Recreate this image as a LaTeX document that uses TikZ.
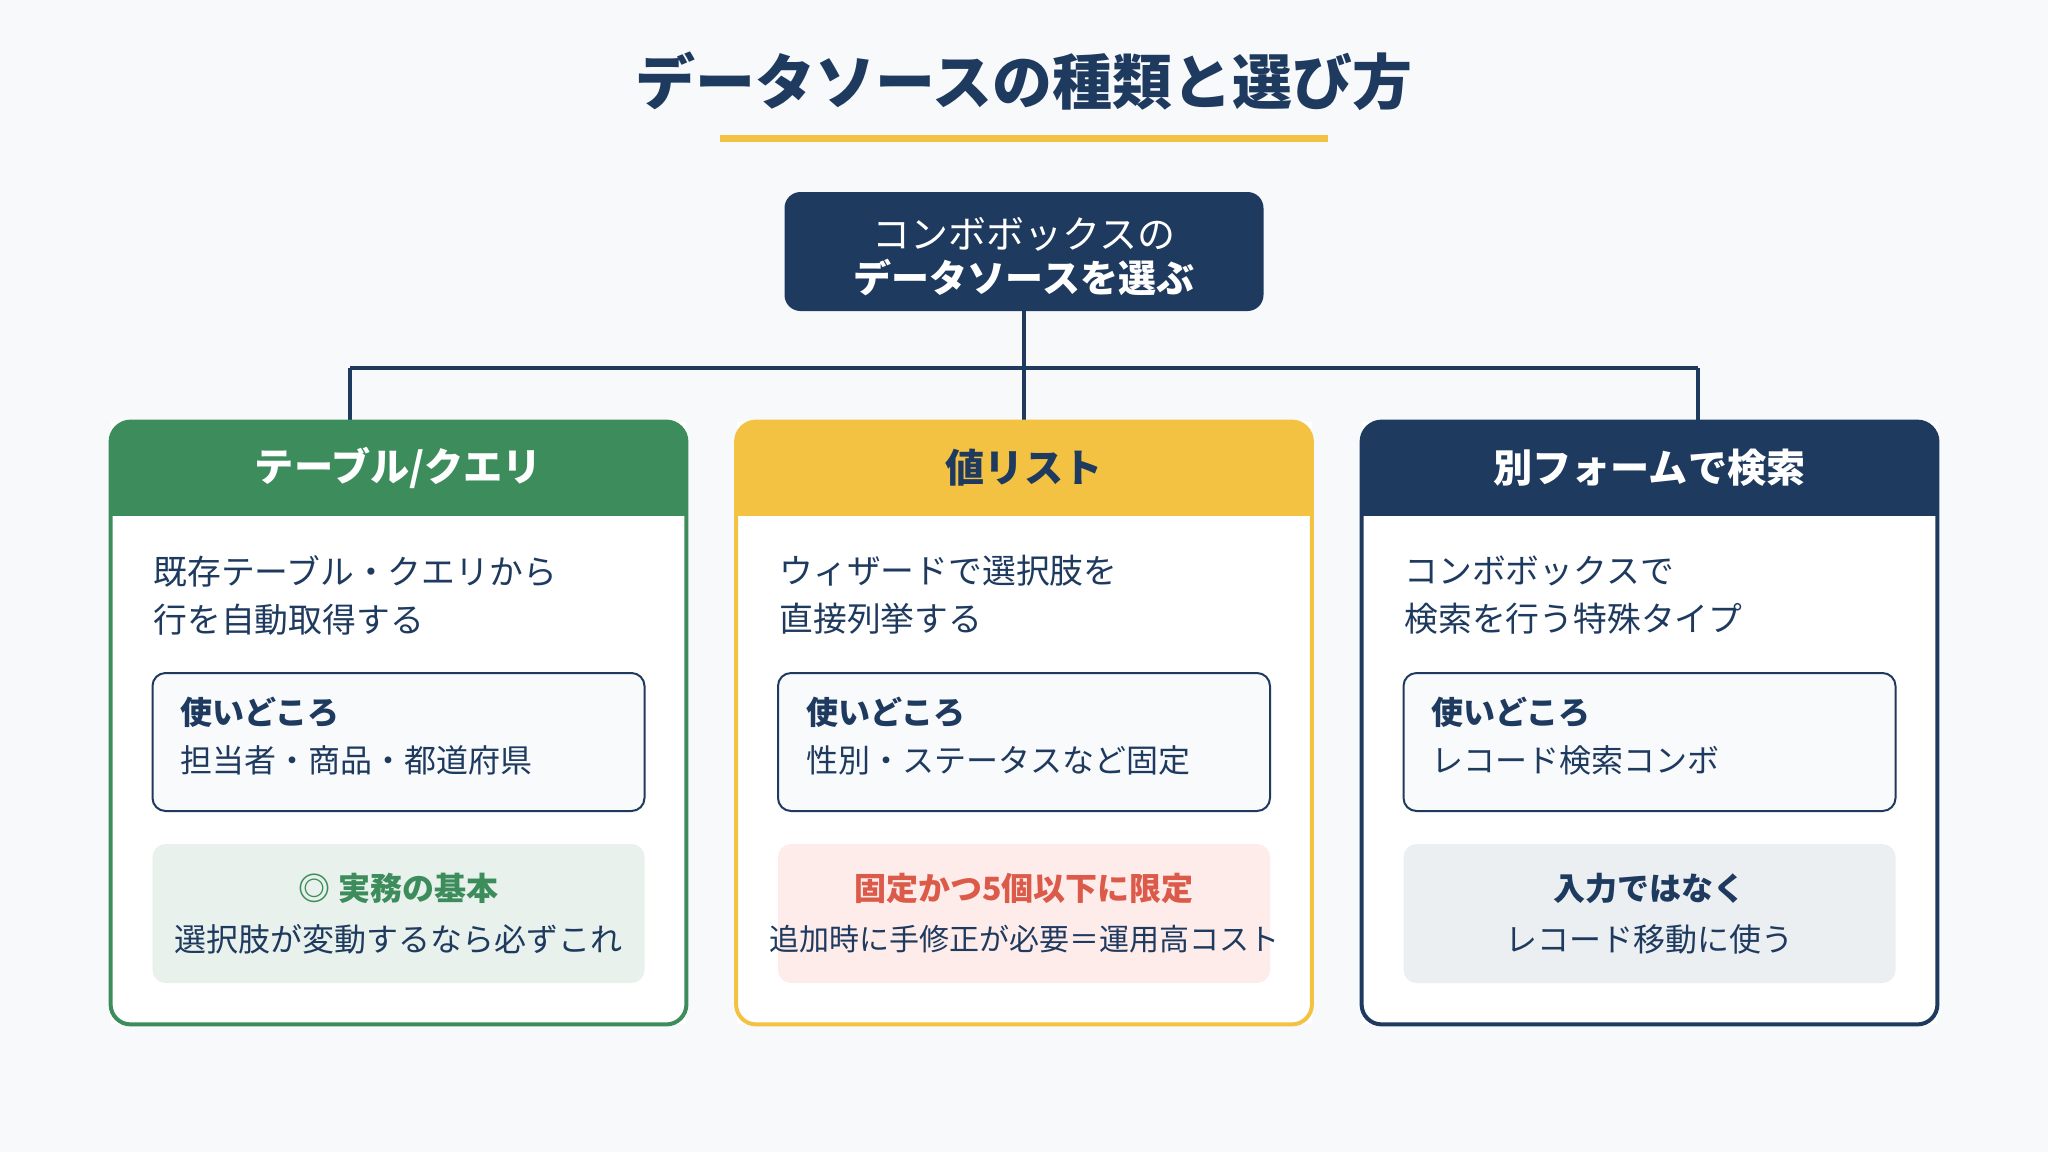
\documentclass[tikz,border=0pt]{standalone}
\usepackage{fontspec}
\setmainfont{Noto Sans CJK JP}
\definecolor{bgc}{HTML}{F7F9FB}
\definecolor{navy}{HTML}{1F3A5F}
\definecolor{grn}{HTML}{3D8C5C}
\definecolor{ylw}{HTML}{F4C242}
\definecolor{redt}{HTML}{DC5A4A}
\definecolor{grntint}{HTML}{E8F1EB}
\definecolor{pinktint}{HTML}{FDECEA}
\definecolor{graytint}{HTML}{ECEFF2}
\definecolor{boxfill}{HTML}{F8FAFC}
\begin{document}
\begin{tikzpicture}[x=0.5pt,y=-0.5pt,
  conn/.style={draw=navy,line width=1.6pt},
  cardbox/.style={fill=white,minimum width=287.5pt,minimum height=301pt,inner sep=0pt},
  hdtext/.style={font=\fontsize{19.6}{23}\selectfont\bfseries},
  desc/.style={anchor=west,align=left,text=navy,inner sep=0pt,font=\fontsize{16.9}{24}\selectfont},
  usebox/.style={draw=navy,line width=1pt,fill=boxfill,rounded corners=6.5pt,minimum width=246pt,minimum height=69pt,inner sep=0pt},
  usehead/.style={anchor=west,text=navy,inner sep=0pt,font=\fontsize{16}{20}\selectfont\bfseries},
  usetext/.style={anchor=west,text=navy,inner sep=0pt,font=\fontsize{16}{20}\selectfont},
  notebox/.style={rounded corners=6.5pt,minimum width=246pt,minimum height=69.5pt,inner sep=0pt},
  notehead/.style={inner sep=0pt,font=\fontsize{16}{20}\selectfont\bfseries},
  notetext/.style={inner sep=0pt,text=navy,font=\fontsize{16}{20}\selectfont}
]
\fill[bgc] (0,0) rectangle (2048,1152);
\useasboundingbox (0,0) rectangle (2048,1152);

% title
\node[text=navy,font=\fontsize{30}{36}\selectfont\bfseries] (title) at (1024,81) {データソースの種類と選び方};
\fill[ylw] (720,134.5) rectangle (1328,141.5);

% top box
\node[fill=navy,rounded corners=8pt,minimum width=239.5pt,minimum height=59.5pt,text=white,align=center,
  font=\fontsize{19}{22.5}\selectfont] (top) at (1024,251.5) {};
\node[text=white,inner sep=0pt,font=\fontsize{19}{22.5}\selectfont] (top1) at (1024,234) {コンボボックスの};
\node[text=white,inner sep=0pt,font=\fontsize{19}{22.5}\selectfont\bfseries] (top2) at (1024,278) {データソースを選ぶ};

% cards
\node[cardbox] (c1) at (398.5,723) {};
\node[cardbox] (c2) at (1024,723) {};
\node[cardbox] (c3) at (1649.5,723) {};

% connectors
\coordinate (jL) at (350,368);
\coordinate (jR) at (1698,368);
\draw[conn] (top.south) -- (top.south |- jL);
\draw[conn] (jL) -- (jR);
\draw[conn] (jL) -- (jL |- c1.north);
\draw[conn] (jR) -- (jR |- c3.north);
\draw[conn] (top.south |- jL) -- (c2.north);

% headers
\begin{scope}
\clip[rounded corners=10pt] (c1.north west) rectangle (c1.south east);
\fill[grn] (c1.north west) rectangle ([yshift=-47pt]c1.north east);
\end{scope}
\begin{scope}
\clip[rounded corners=10pt] (c2.north west) rectangle (c2.south east);
\fill[ylw] (c2.north west) rectangle ([yshift=-47pt]c2.north east);
\end{scope}
\begin{scope}
\clip[rounded corners=10pt] (c3.north west) rectangle (c3.south east);
\fill[navy] (c3.north west) rectangle ([yshift=-47pt]c3.north east);
\end{scope}
\draw[grn,line width=2pt,rounded corners=10pt] (c1.north west) rectangle (c1.south east);
\draw[ylw,line width=2pt,rounded corners=10pt] (c2.north west) rectangle (c2.south east);
\draw[navy,line width=2pt,rounded corners=10pt] (c3.north west) rectangle (c3.south east);

\node[hdtext,text=white] (h1) at (398.5,468) {テーブル/クエリ};
\node[hdtext,text=navy] (h2) at (1024,468) {値リスト};
\node[hdtext,text=white] (h3) at (1649.5,468) {別フォームで検索};

% descriptions
\node[desc] (d1) at (153,595) {既存テーブル・クエリから\\行を自動取得する};
\node[desc] (d2) at (779,595) {ウィザードで選択肢を\\直接列挙する};
\node[desc] (d3) at (1404,595) {コンボボックスで\\検索を行う特殊タイプ};

% use boxes
\node[usebox] (u1) at (398.5,742) {};
\node[usebox] (u2) at (1024,742) {};
\node[usebox] (u3) at (1649.5,742) {};
\node[usehead] (uh1) at (180,712) {使いどころ};
\node[usetext] (ut1) at (180,760) {担当者・商品・都道府県};
\node[usehead] (uh2) at (806,712) {使いどころ};
\node[usetext] (ut2) at (806,760) {性別・ステータスなど固定};
\node[usehead] (uh3) at (1431,712) {使いどころ};
\node[usetext] (ut3) at (1431,760) {レコード検索コンボ};

% note boxes
\node[notebox,fill=grntint] (n1) at (398.5,913.5) {};
\node[notebox,fill=pinktint] (n2) at (1024,913.5) {};
\node[notebox,fill=graytint] (n3) at (1649.5,913.5) {};
\node[notehead,text=grn] (nh1) at (398.5,888) {◎ 実務の基本};
\node[notetext] (nt1) at (398.5,939) {選択肢が変動するなら必ずこれ};
\node[notehead,text=redt] (nh2) at (1024,888) {固定かつ5個以下に限定};
\node[notetext,font=\fontsize{15}{19}\selectfont] (nt2) at (1024,939) {追加時に手修正が必要＝運用高コスト};
\node[notehead,text=navy] (nh3) at (1649.5,888) {入力ではなく};
\node[notetext] (nt3) at (1649.5,939) {レコード移動に使う};
\end{tikzpicture}
\end{document}
